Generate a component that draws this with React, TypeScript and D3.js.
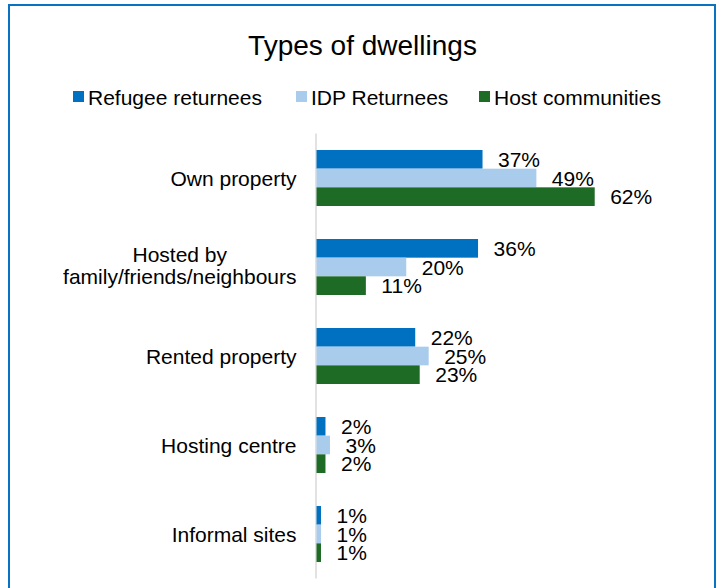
import React, { useEffect, useRef } from "react";
import * as d3 from "d3";

const categories = [
  "Own property",
  "Hosted by\nfamily/friends/neighbours",
  "Rented property",
  "Hosting centre",
  "Informal sites",
];
const seriesNames = ["Refugee returnees", "IDP Returnees", "Host communities"];
const refugeeValues = [37, 36, 22, 2, 1];
const idpValues = [49, 20, 25, 3, 1];
const hostValues = [62, 11, 23, 2, 1];
const seriesColors = ["#0070C0", "#A9CBEC", "#1E6B26"];

const W = 716;
const H = 588;
const FONT = "'Liberation Sans', Arial, sans-serif";

export default function App() {
  const ref = useRef<SVGSVGElement>(null);

  useEffect(() => {
    const svg = d3.select(ref.current);
    svg.selectAll("*").remove();

    const series = [refugeeValues, idpValues, hostValues];

    // frame
    svg.append("rect").attr("width", W).attr("height", H).attr("fill", "#fff");
    svg
      .append("path")
      .attr("d", `M9,${H + 5} L9,5 L715,5 L715,${H + 5}`)
      .attr("fill", "none")
      .attr("stroke", "#0A72C2")
      .attr("stroke-width", 2);

    // title
    svg
      .append("text")
      .attr("x", 362.5)
      .attr("y", 55)
      .attr("text-anchor", "middle")
      .attr("font-family", FONT)
      .attr("font-size", 28)
      .attr("fill", "#000")
      .text("Types of dwellings");

    // legend
    const legendX = [73, 296, 479];
    seriesNames.forEach((name, i) => {
      const g = svg.append("g").attr("transform", `translate(${legendX[i]},0)`);
      g.append("rect")
        .attr("x", 0)
        .attr("y", 91)
        .attr("width", 11)
        .attr("height", 11)
        .attr("fill", seriesColors[i]);
      g.append("text")
        .attr("x", 15)
        .attr("y", 104.5)
        .attr("font-family", FONT)
        .attr("font-size", 21)
        .attr("fill", "#000")
        .text(name);
    });

    const y = d3
      .scaleBand<string>()
      .domain(categories)
      .range([133.5, 578.5])
      .paddingInner(0.371)
      .paddingOuter(0.1855);

    const ySub = d3
      .scaleBand<number>()
      .domain([0, 1, 2])
      .range([0, y.bandwidth()])
      .padding(0);

    const x = d3.scaleLinear().domain([0, 70]).range([316.5, 630.6]);

    // axis line
    svg
      .append("line")
      .attr("x1", 316)
      .attr("x2", 316)
      .attr("y1", 133.5)
      .attr("y2", 578.5)
      .attr("stroke", "#D9D9D9")
      .attr("stroke-width", 1.5);

    // bars
    series.forEach((vals, si) => {
      const g = svg.append("g");
      g.selectAll("rect")
        .data(vals)
        .join("rect")
        .attr("x", x(0))
        .attr("y", (_d, i) => (y(categories[i]) as number) + (ySub(si) as number))
        .attr("width", (d) => x(d) - x(0))
        .attr("height", ySub.bandwidth())
        .attr("fill", seriesColors[si]);
      g.selectAll("text")
        .data(vals)
        .join("text")
        .attr("x", (d) => x(d) + 15.5)
        .attr(
          "y",
          (_d, i) =>
            (y(categories[i]) as number) + (ySub(si) as number) + ySub.bandwidth() / 2 + 7.5
        )
        .attr("font-family", FONT)
        .attr("font-size", 21)
        .attr("fill", "#000")
        .text((d) => `${d}%`);
    });

    // category labels
    const labelRight = 296.5;
    const lineH = 22;
    categories.forEach((cat) => {
      const lines = cat.split("\n");
      const cy = (y(cat) as number) + y.bandwidth() / 2;
      const g = svg.append("g");
      const texts = lines.map((ln, li) =>
        g
          .append("text")
          .attr("text-anchor", "middle")
          .attr("x", 0)
          .attr("y", cy - ((lines.length - 1) * lineH) / 2 + li * lineH + 7.5 - (lines.length > 1 ? 1.5 : 0))
          .attr("font-family", FONT)
          .attr("font-size", 21)
          .attr("fill", "#000")
          .text(ln)
      );
      const maxW = d3.max(texts, (t) => (t.node() as SVGTextElement).getComputedTextLength()) || 0;
      texts.forEach((t) => t.attr("x", labelRight - maxW / 2));
    });
  }, []);

  return (
    <svg
      ref={ref}
      width={W}
      height={H}
      style={{ position: "absolute", left: 0, top: 0, display: "block" }}
    />
  );
}
